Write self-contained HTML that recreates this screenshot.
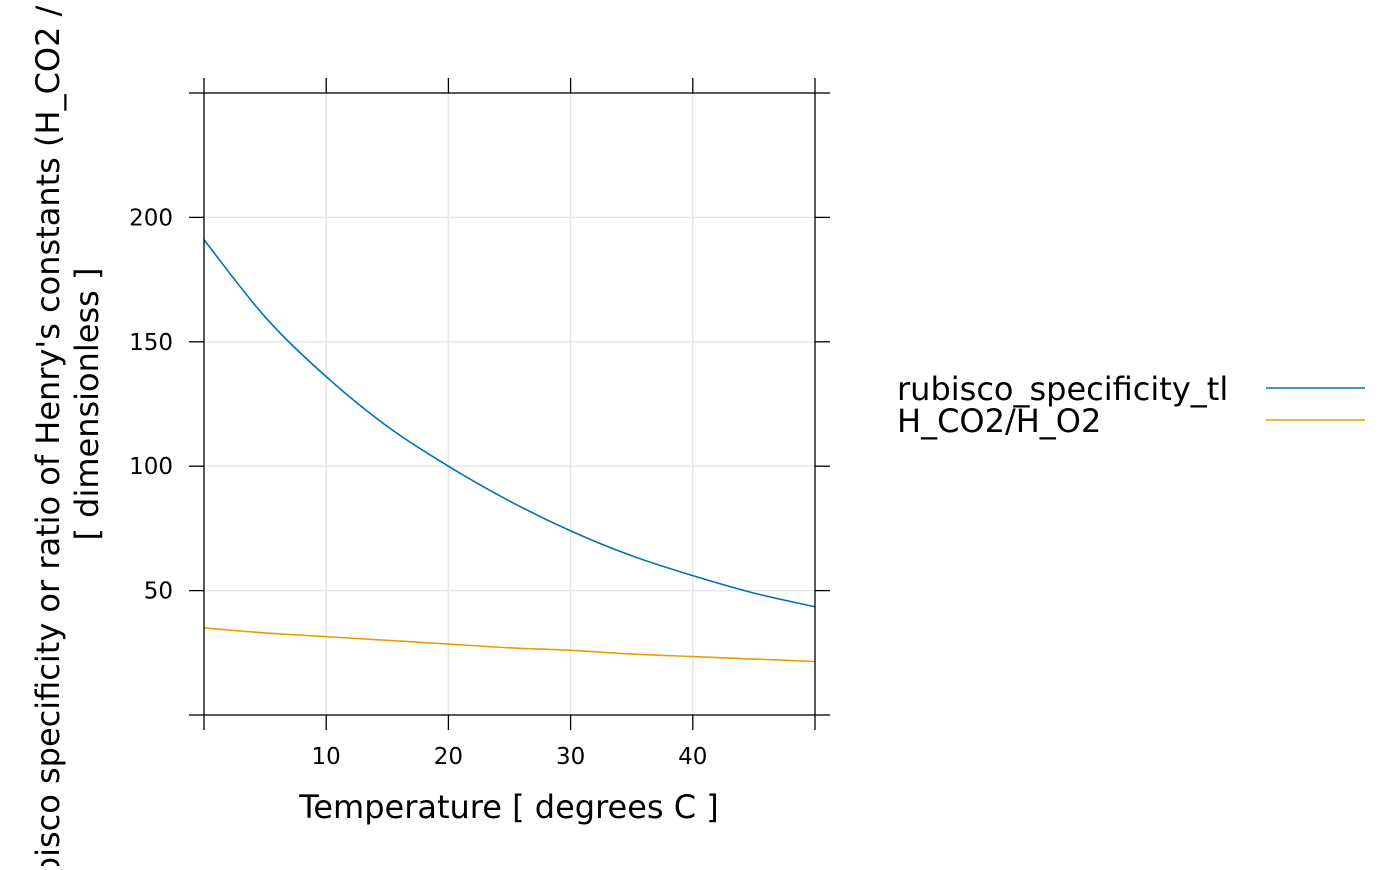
<!DOCTYPE html>
<html><head><meta charset="utf-8"><style>
body{margin:0;background:#fff;width:1400px;height:866px;overflow:hidden;font-family:"DejaVu Sans","Liberation Sans",sans-serif;}
</style></head><body>
<svg id="chart" width="1400" height="866" xmlns="http://www.w3.org/2000/svg" font-family="DejaVu Sans, Liberation Sans, sans-serif"></svg>
<script>
const temps=[0,5,10,15,20,25,30,35,40,45,50];
const specificity=[191,160,136,116,100,86,74,64,56,49,43.5];
const henryRatio=[35,33,31.5,30,28.5,27,26,24.5,23.5,22.5,21.5];
const xTicks=[10,20,30,40];
const yTicks=[50,100,150,200];
const seriesNames=["rubisco_specificity_tl","H_CO2/H_O2"];
const seriesColors=["#0072B2","#E69F00"];

const svg=document.getElementById('chart');
const NS='http://www.w3.org/2000/svg';
const L=204,R=815,T=93,B=715;
const xMin=0,xMax=50,yMin=0,yMax=250;
const xs=v=>L+(v-xMin)/(xMax-xMin)*(R-L);
const ys=v=>B-(v-yMin)/(yMax-yMin)*(B-T);
function el(tag,attrs,parent){const e=document.createElementNS(NS,tag);for(const k in attrs)e.setAttribute(k,attrs[k]);(parent||svg).appendChild(e);return e;}
function smoothPath(P){
  let d='M'+P[0][0]+','+P[0][1];
  for(let i=0;i<P.length-1;i++){
    const p0=P[Math.max(0,i-1)],p1=P[i],p2=P[i+1],p3=P[Math.min(P.length-1,i+2)];
    const c1=[p1[0]+(p2[0]-p0[0])/6,p1[1]+(p2[1]-p0[1])/6];
    const c2=[p2[0]-(p3[0]-p1[0])/6,p2[1]-(p3[1]-p1[1])/6];
    d+=' C'+c1[0]+','+c1[1]+' '+c2[0]+','+c2[1]+' '+p2[0]+','+p2[1];
  }
  return d;
}

const grid=el('g',{});


xTicks.forEach(t=>el('line',{x1:xs(t),x2:xs(t),y1:T,y2:B,stroke:'#e6e6e6','stroke-width':1.5},grid));
yTicks.forEach(t=>el('line',{x1:L,x2:R,y1:ys(t),y2:ys(t),stroke:'#e6e6e6','stroke-width':1.5},grid));

[specificity,henryRatio].forEach((arr,i)=>{
  const P=arr.map((v,j)=>[xs(temps[j]),ys(v)]);
  const p=el('path',{d:smoothPath(P),fill:'none',stroke:seriesColors[i],'stroke-width':1.6});
  
  
});

const frame=el('rect',{x:L,y:T,width:R-L,height:B-T,fill:'none',stroke:'#000','stroke-width':1.3});



const ticks=el('g',{stroke:'#000','stroke-width':1.3});


const xAll=[0].concat(xTicks,[50]);
xAll.forEach(t=>{el('line',{x1:xs(t),x2:xs(t),y1:T-15,y2:T},ticks);el('line',{x1:xs(t),x2:xs(t),y1:B,y2:B+15},ticks);});
const yAll=[0].concat(yTicks,[250]);
yAll.forEach(t=>{el('line',{x1:L-15,x2:L,y1:ys(t),y2:ys(t)},ticks);el('line',{x1:R,x2:R+15,y1:ys(t),y2:ys(t)},ticks);});

xTicks.forEach(t=>{const tx=el('text',{x:xs(t),y:764,'text-anchor':'middle','font-size':23});tx.textContent=t;

});
yTicks.forEach(t=>{const tx=el('text',{x:173,y:ys(t)+8,'text-anchor':'end','font-size':23});tx.textContent=t;

});

const xt=el('text',{x:509,y:818,'text-anchor':'middle','font-size':32});xt.textContent='Temperature [ degrees C ]';


const yt=el('text',{x:0,y:0,'text-anchor':'middle','font-size':32,transform:'translate(59,404) rotate(-90)'});yt.textContent="rubisco specificity or ratio of Henry's constants (H_CO2 / H_O2)";


const yt2=el('text',{x:0,y:0,'text-anchor':'middle','font-size':32,transform:'translate(98,404) rotate(-90)'});yt2.textContent='[ dimensionless ]';



seriesNames.forEach((n,i)=>{
  const y=388+i*32;
  const g=el('g',{});
  
  
  const t=el('text',{x:897,y:y+12,'font-size':32},g);t.textContent=n;
  el('line',{x1:1266,x2:1365,y1:y,y2:y,stroke:seriesColors[i],'stroke-width':1.6},g);
});
</script>
</body></html>
